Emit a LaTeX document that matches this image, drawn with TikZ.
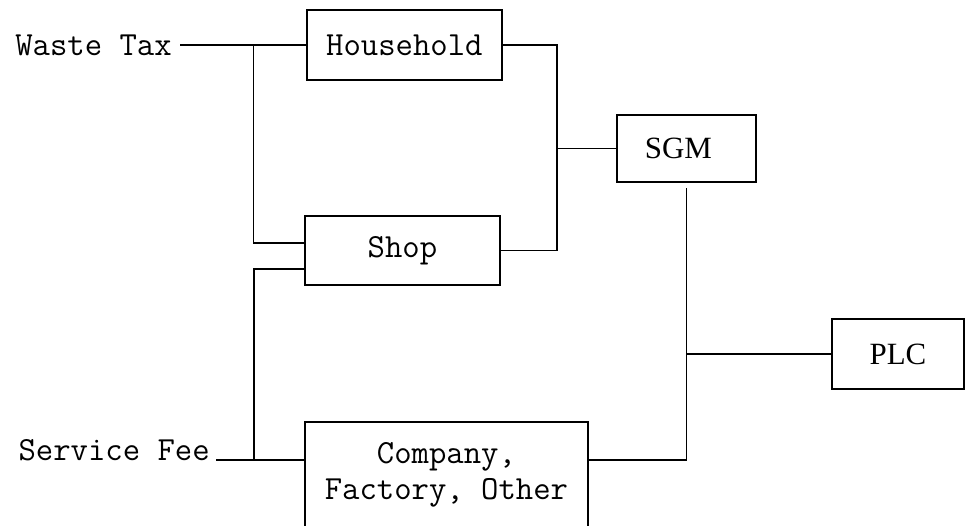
\documentclass[tikz,border=0pt]{standalone}
\usepackage{fontspec}
\usepackage{tikz}
\usetikzlibrary{positioning, calc}
\newfontfamily\timeslike{Liberation Serif}
\tikzstyle{link} = [line width=0.9pt]

\begin{document}
\begin{tikzpicture}[
  unit/.style={draw, line width=1.3pt, minimum width=4.875cm, minimum height=1.75cm, inner sep=0pt, align=center, font=\ttfamily\fontsize{24}{25}\selectfont},
  plant/.style={draw, line width=1.3pt, minimum height=1.7cm, inner sep=0pt, font=\timeslike\fontsize{22}{24}\selectfont},
  source/.style={inner sep=0.2cm, font=\ttfamily\fontsize{24}{25}\selectfont}
]
\useasboundingbox (0,0) rectangle (24.2,13.125);

% Payers
\node[unit] (hh) at (10.11,12.0) {Household};
\node[unit, minimum height=1.725cm] (sh) at (10.06,6.86) {Shop};
\node[unit, minimum width=7.075cm, minimum height=3.325cm] (co) at (11.16,0.9125)
  {Company,\\Factory, Other\\\mbox{}};

% Charges
\node[source, anchor=east] (wt) at (4.5,12.0) {Waste Tax};
\node[source, inner sep=0.15cm, anchor=base east] (sf) at (5.4,1.625) {Service Fee};

% Operators
\node[plant, minimum width=3.475cm, minimum height=1.675cm] (sgm) at (17.16,9.41) {\hspace*{-0.4cm}SGM};
\node[plant, minimum width=3.3cm, minimum height=1.75cm] (plc) at (22.45,4.275) {PLC};

% Forks
\coordinate (taxfork) at (6.33,12.0);
\coordinate (feefork) at (6.35,1.625);
\coordinate (hubfork) at (13.925,9.41);

% Lines
\draw[link] (wt.east) -- (hh.west);
\draw[link] (taxfork) |- ([yshift=0.19cm]sh.west);
\draw[link] ([yshift=-0.46cm]sh.west) -| (feefork);
\draw[link] (sf.base east) -- (sf.base east -| co.west);
\draw[link] (hh.east) -| (hubfork) |- (sh.east);
\draw[link] (hubfork) -- (sgm.west);
\draw[link] ([yshift=0.7125cm]co.east) -| ([yshift=-0.12cm]sgm.south);
\draw[link] (plc.west) -- (plc.west -| sgm.south);

\end{tikzpicture}
\end{document}
